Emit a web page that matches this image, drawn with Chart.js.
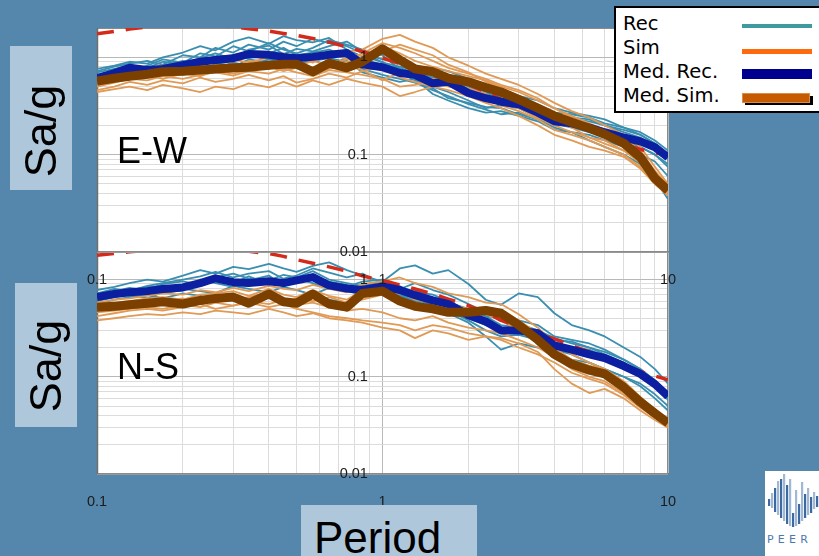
<!DOCTYPE html>
<html><head><meta charset="utf-8">
<script src="https://cdn.jsdelivr.net/npm/chart.js@4.4.1/dist/chart.umd.min.js"></script>
<style>
html,body{margin:0;padding:0;}
body{width:819px;height:556px;overflow:hidden;background:#5587ad;position:relative;font-family:"Liberation Sans",Arial,sans-serif;}
canvas{position:absolute;left:0;}
#cTop{top:0;z-index:3;}
#cBot{top:240px;z-index:2;}
.box{position:absolute;background:#afc7da;z-index:1;}
.rot{position:absolute;width:140px;height:50px;line-height:50px;font-size:45px;text-align:center;transform:rotate(-90deg);color:#000;white-space:nowrap;z-index:4;}
.tag{position:absolute;font-size:36px;line-height:36px;color:#000;z-index:4;}
#legend{position:absolute;left:614px;top:6px;width:210px;height:103px;background:#fff;border:2px solid #000;z-index:6;font-family:"DejaVu Sans",Verdana,sans-serif;font-size:19.5px;color:#000;}
#legend .t{position:absolute;left:7px;line-height:24px;white-space:nowrap;}
#legend .s{position:absolute;left:126px;width:70px;}
#period{position:absolute;left:301px;top:505px;width:176px;height:60px;background:#afc7da;z-index:4;}
#period span{position:absolute;left:13px;top:10.7px;font-size:44px;line-height:44px;color:#000;}
#logo{position:absolute;left:765px;top:471px;width:60px;height:90px;background:#fff;z-index:4;}
</style></head>
<body>
<canvas id="cTop" width="819" height="300"></canvas>
<canvas id="cBot" width="819" height="316"></canvas>

<div class="box" style="left:10px;top:46px;width:62px;height:144px;"></div>
<div class="rot" style="left:-28.6px;top:105.5px;">Sa/g</div>
<div class="box" style="left:15px;top:283px;width:62px;height:144px;"></div>
<div class="rot" style="left:-23.6px;top:341px;">Sa/g</div>
<div class="tag" style="left:117px;top:132.5px;">E-W</div>
<div class="tag" style="left:117px;top:348.5px;">N-S</div>
<div id="period"><span>Period</span></div>

<div id="legend">
  <div class="t" style="top:4px;">Rec</div>
  <div class="t" style="top:28px;">Sim</div>
  <div class="t" style="top:51.5px;">Med. Rec.</div>
  <div class="t" style="top:76px;">Med. Sim.</div>
  <div class="s" style="top:16px;height:4px;background:#3e9a9f;"></div>
  <div class="s" style="top:41px;height:4.5px;background:#ff6a0d;"></div>
  <div class="s" style="top:61px;height:10px;background:#00008f;"></div>
  <div class="s" style="width:68px;height:9px;background:#000;left:129px;top:88px;"></div>
  <div class="s" style="top:85px;width:66px;height:8px;background:#c55a00;border:1px solid #e08a4a;"></div>
</div>

<div id="logo">
<svg width="60" height="90" viewBox="0 0 60 90">
  <g fill="#3b69a0">
    <rect x="3" y="28" width="2.2" height="7"/><rect x="9" y="17" width="2.2" height="24"/>
    <rect x="15" y="8" width="2.2" height="39"/><rect x="21" y="14" width="2.2" height="39"/>
    <rect x="27" y="42" width="2.2" height="14"/><rect x="33" y="33" width="2.2" height="20"/>
    <rect x="39" y="23" width="2.2" height="24"/><rect x="45" y="26" width="2.2" height="16"/>
    <rect x="51" y="25" width="2.2" height="11"/>
  </g>
  <g fill="#9fb8d6">
    <rect x="6" y="22" width="2.2" height="15"/><rect x="12" y="10" width="2.2" height="34"/>
    <rect x="18" y="3" width="2.2" height="47"/><rect x="24" y="8" width="2.2" height="47"/>
    <rect x="30" y="19" width="2.2" height="36"/><rect x="36" y="11" width="2.2" height="39"/>
    <rect x="42" y="17" width="2.2" height="27"/><rect x="48" y="21" width="2.2" height="17"/>
  </g>
  <text x="2" y="72" font-family="DejaVu Sans, sans-serif" font-size="11" letter-spacing="4.2" fill="#4a7aab">PEER</text>
</svg>
</div>

<script>
// ---- periods (s) shared by every spectrum ----
const periods = [0.1,0.115,0.13,0.15,0.17,0.2,0.23,0.26,0.3,0.34,0.4,0.45,0.5,0.57,0.65,0.75,0.85,1,1.15,1.3,1.5,1.7,2,2.3,2.6,3,3.5,4,4.6,5.3,6,7,8,9,10];

// ---- axis ticks ----
const xGridValues = [0.1,0.2,0.3,0.4,0.5,0.6,0.7,0.8,0.9,1,2,3,4,5,6,7,8,9,10];
const xTickLabels = ['0.1','1','10'];
const yGridValues = [0.01,0.02,0.03,0.04,0.05,0.06,0.07,0.08,0.09,0.1,0.2,0.3,0.4,0.5,0.6,0.7,0.8,0.9,1,2];
const yTickLabels = ['0.01','0.1','1'];

// ---- E-W panel ----
const ewRec = [
  [0.72,0.80,0.86,0.92,0.84,1.05,1.00,1.25,1.12,1.35,1.20,1.45,1.30,1.55,1.40,1.30,1.10,0.95,0.90,0.80,0.78,0.72,0.60,0.52,0.48,0.40,0.36,0.30,0.27,0.25,0.23,0.19,0.16,0.13,0.10],
  [0.66,0.72,0.70,0.82,0.95,0.88,1.10,1.02,1.30,1.15,1.40,1.20,1.10,1.25,1.50,1.35,1.20,1.05,0.75,0.70,0.62,0.60,0.50,0.42,0.40,0.36,0.30,0.26,0.24,0.23,0.20,0.17,0.15,0.12,0.090],
  [0.55,0.62,0.75,0.68,0.70,0.78,0.72,0.85,0.80,0.95,0.88,0.82,0.90,0.78,0.85,0.92,0.70,0.62,0.56,0.60,0.42,0.36,0.30,0.27,0.28,0.25,0.22,0.18,0.17,0.14,0.12,0.10,0.080,0.055,0.035],
  [0.60,0.66,0.72,0.80,0.70,0.86,0.95,0.85,0.92,1.05,0.96,0.90,1.05,0.95,0.80,1.00,0.82,0.76,0.72,0.62,0.50,0.44,0.36,0.30,0.32,0.30,0.24,0.20,0.20,0.18,0.15,0.13,0.12,0.10,0.075],
  [0.70,0.76,0.82,0.78,0.90,0.84,0.98,1.10,0.96,1.20,1.32,1.08,1.22,1.15,1.30,1.45,1.15,0.88,0.80,0.74,0.66,0.62,0.52,0.44,0.38,0.35,0.30,0.27,0.26,0.24,0.21,0.19,0.17,0.14,0.11],
  [0.50,0.58,0.66,0.62,0.72,0.68,0.80,0.76,0.88,0.82,0.95,0.90,0.86,0.92,0.98,0.90,0.76,0.66,0.60,0.55,0.46,0.40,0.33,0.29,0.26,0.27,0.23,0.19,0.17,0.16,0.14,0.12,0.10,0.085,0.060],
  [0.64,0.70,0.68,0.76,0.82,0.92,0.86,0.98,1.05,0.98,1.10,1.25,1.05,1.12,1.20,1.02,0.95,0.84,0.78,0.68,0.62,0.55,0.46,0.40,0.36,0.32,0.28,0.24,0.23,0.22,0.20,0.18,0.16,0.13,0.10],
  [0.76,0.82,0.90,0.86,1.00,1.12,1.30,1.18,1.45,1.60,1.38,1.65,1.50,1.42,1.58,1.20,1.02,0.90,0.70,0.58,0.48,0.38,0.34,0.31,0.30,0.26,0.23,0.21,0.19,0.17,0.16,0.14,0.12,0.10,0.080]
];
const ewSim = [
  [0.50,0.55,0.60,0.58,0.64,0.60,0.66,0.70,0.65,0.72,0.68,0.76,0.70,0.64,0.74,0.70,0.66,0.60,0.50,0.52,0.56,0.50,0.46,0.40,0.38,0.32,0.26,0.22,0.19,0.15,0.14,0.11,0.085,0.058,0.045],
  [0.62,0.66,0.72,0.78,0.82,0.76,0.86,0.90,0.95,0.88,1.00,1.10,0.98,0.90,1.05,1.15,1.20,1.55,1.70,1.45,1.25,1.00,0.82,0.68,0.60,0.52,0.42,0.34,0.28,0.24,0.20,0.16,0.12,0.075,0.050],
  [0.46,0.50,0.56,0.52,0.58,0.54,0.62,0.56,0.60,0.66,0.58,0.64,0.55,0.60,0.68,0.62,0.72,0.80,0.62,0.56,0.50,0.52,0.44,0.38,0.32,0.28,0.23,0.18,0.16,0.14,0.12,0.10,0.075,0.050,0.040],
  [0.56,0.62,0.68,0.72,0.66,0.76,0.82,0.78,0.86,0.80,0.90,0.82,0.94,0.76,0.84,0.96,1.05,1.30,1.10,0.92,0.80,0.72,0.64,0.58,0.50,0.44,0.36,0.30,0.25,0.21,0.18,0.15,0.11,0.068,0.048],
  [0.60,0.64,0.66,0.70,0.74,0.80,0.72,0.84,0.78,0.92,0.86,0.96,1.05,0.88,1.12,0.95,1.10,1.40,1.25,1.10,0.92,0.78,0.68,0.60,0.52,0.46,0.38,0.30,0.24,0.20,0.17,0.14,0.10,0.062,0.044],
  [0.52,0.58,0.62,0.66,0.60,0.68,0.64,0.72,0.68,0.74,0.80,0.72,0.78,0.68,0.76,0.82,0.74,0.58,0.70,0.62,0.60,0.56,0.48,0.42,0.36,0.30,0.24,0.20,0.17,0.15,0.13,0.11,0.082,0.055,0.042],
  [0.58,0.60,0.64,0.62,0.70,0.66,0.74,0.80,0.74,0.82,0.76,0.86,0.80,0.92,0.82,0.90,0.96,1.15,1.35,1.20,1.05,0.84,0.70,0.56,0.48,0.40,0.32,0.27,0.22,0.18,0.16,0.13,0.095,0.060,0.045],
  [0.44,0.47,0.50,0.46,0.52,0.48,0.44,0.50,0.47,0.54,0.49,0.56,0.50,0.58,0.52,0.60,0.55,0.50,0.40,0.44,0.50,0.46,0.40,0.34,0.30,0.25,0.20,0.16,0.14,0.12,0.11,0.095,0.072,0.050,0.038]
];
const ewMedRec = [0.61,0.69,0.78,0.74,0.76,0.83,0.90,0.94,0.98,1.08,1.06,1.01,0.98,1.01,1.06,1.11,0.85,0.79,0.69,0.66,0.54,0.56,0.43,0.38,0.35,0.33,0.27,0.22,0.21,0.19,0.17,0.15,0.137,0.119,0.094];
const ewMedSim = [0.57,0.61,0.64,0.67,0.71,0.72,0.74,0.76,0.78,0.79,0.83,0.85,0.85,0.71,0.87,0.78,0.90,1.22,0.94,0.76,0.71,0.61,0.56,0.49,0.44,0.37,0.30,0.25,0.215,0.187,0.162,0.131,0.094,0.057,0.043];
const ewTarget = [1.74,1.84,1.95,2.05,2.15,2.2,2.2,2.15,2.05,1.97,1.86,1.76,1.68,1.56,1.43,1.28,1.15,0.98,0.86,0.78,0.69,0.62,0.53,0.44,0.37,0.32,0.28,0.245,0.21,0.18,0.16,0.128,0.113,0.105,0.098];

// ---- N-S panel ----
const nsRec = [
  [0.78,0.84,0.92,1.00,0.95,1.10,1.25,1.15,1.35,1.28,1.45,1.30,1.20,1.38,1.50,1.25,1.10,0.95,1.30,1.40,1.15,1.25,0.90,0.62,0.55,0.72,0.66,0.45,0.34,0.30,0.26,0.20,0.16,0.12,0.085],
  [0.70,0.76,0.82,0.78,0.90,0.96,0.88,1.05,1.15,1.02,0.98,1.12,1.05,1.22,1.00,0.92,0.86,0.95,0.85,0.72,0.65,0.58,0.50,0.42,0.40,0.38,0.34,0.26,0.24,0.22,0.19,0.15,0.12,0.09,0.065],
  [0.60,0.66,0.70,0.64,0.74,0.80,0.76,0.72,0.86,0.80,0.74,0.84,0.78,0.70,0.82,0.76,0.70,0.80,0.70,0.62,0.55,0.48,0.38,0.30,0.26,0.27,0.24,0.19,0.17,0.14,0.12,0.10,0.08,0.060,0.045],
  [0.64,0.70,0.68,0.80,0.72,0.78,1.00,0.92,0.84,0.98,1.10,0.86,1.02,0.92,0.80,0.84,0.95,1.00,0.82,0.75,0.70,0.60,0.48,0.42,0.34,0.32,0.30,0.25,0.22,0.20,0.17,0.14,0.11,0.085,0.060],
  [0.72,0.80,0.76,0.86,0.92,1.00,1.08,1.20,1.05,1.15,1.22,1.02,1.10,1.30,1.18,1.05,1.15,0.90,0.80,0.92,0.78,0.70,0.56,0.46,0.38,0.35,0.30,0.24,0.23,0.20,0.18,0.15,0.12,0.092,0.068],
  [0.56,0.62,0.66,0.70,0.64,0.72,0.68,0.60,0.66,0.62,0.70,0.64,0.58,0.66,0.62,0.58,0.66,0.76,0.68,0.60,0.52,0.45,0.36,0.26,0.19,0.22,0.20,0.17,0.15,0.14,0.12,0.10,0.085,0.066,0.050],
  [0.68,0.72,0.78,0.84,0.86,0.82,0.95,1.02,0.92,1.08,0.90,1.00,0.94,1.04,0.95,0.88,0.82,0.90,0.72,0.66,0.60,0.52,0.40,0.34,0.30,0.28,0.26,0.22,0.20,0.19,0.16,0.13,0.10,0.078,0.058]
];
const nsSim = [
  [0.46,0.48,0.50,0.52,0.50,0.55,0.52,0.58,0.54,0.60,0.56,0.62,0.55,0.58,0.52,0.48,0.50,0.46,0.40,0.38,0.42,0.36,0.32,0.30,0.28,0.24,0.20,0.16,0.12,0.10,0.090,0.068,0.050,0.040,0.032],
  [0.58,0.62,0.64,0.68,0.72,0.70,0.78,0.74,0.82,0.76,0.86,0.80,0.78,0.88,0.80,0.74,0.90,0.96,1.05,0.92,0.84,0.72,0.66,0.58,0.56,0.44,0.32,0.22,0.17,0.14,0.12,0.090,0.062,0.046,0.036],
  [0.38,0.40,0.42,0.44,0.43,0.46,0.44,0.48,0.46,0.44,0.50,0.46,0.42,0.45,0.40,0.38,0.36,0.32,0.30,0.25,0.30,0.28,0.24,0.26,0.25,0.22,0.18,0.12,0.085,0.068,0.075,0.060,0.045,0.036,0.030],
  [0.52,0.54,0.58,0.56,0.62,0.58,0.66,0.70,0.62,0.66,0.74,0.64,0.60,0.70,0.58,0.56,0.66,0.72,0.64,0.56,0.52,0.48,0.44,0.45,0.40,0.32,0.25,0.18,0.14,0.12,0.11,0.080,0.058,0.044,0.034],
  [0.48,0.52,0.56,0.54,0.60,0.64,0.58,0.62,0.68,0.62,0.66,0.58,0.64,0.60,0.66,0.58,0.62,0.70,0.72,0.68,0.60,0.56,0.50,0.44,0.38,0.30,0.23,0.17,0.13,0.11,0.10,0.075,0.054,0.041,0.033],
  [0.42,0.45,0.48,0.50,0.48,0.52,0.56,0.50,0.54,0.58,0.52,0.56,0.50,0.46,0.42,0.40,0.38,0.36,0.34,0.30,0.34,0.32,0.28,0.26,0.24,0.20,0.17,0.14,0.11,0.095,0.085,0.065,0.048,0.038,0.031],
  [0.56,0.58,0.60,0.64,0.66,0.62,0.70,0.72,0.76,0.68,0.80,0.70,0.66,0.78,0.68,0.62,0.78,0.86,0.74,0.62,0.58,0.54,0.50,0.52,0.48,0.38,0.28,0.20,0.15,0.13,0.12,0.085,0.060,0.045,0.035]
];
const nsMedRec = [0.66,0.71,0.74,0.76,0.80,0.83,0.92,1.03,0.94,0.92,0.96,0.92,0.98,1.06,0.87,0.81,0.78,0.85,0.78,0.69,0.61,0.56,0.43,0.37,0.30,0.30,0.28,0.21,0.19,0.17,0.156,0.129,0.107,0.084,0.063];
const nsMedSim = [0.52,0.53,0.55,0.57,0.59,0.56,0.61,0.64,0.66,0.57,0.71,0.59,0.57,0.71,0.56,0.52,0.72,0.76,0.60,0.53,0.50,0.46,0.46,0.48,0.45,0.34,0.24,0.17,0.135,0.117,0.107,0.078,0.055,0.042,0.0335];
const nsTarget = [1.78,1.86,1.93,2.0,2.1,2.15,2.15,2.1,2.02,1.95,1.85,1.73,1.60,1.47,1.35,1.22,1.09,0.98,0.88,0.80,0.71,0.63,0.54,0.46,0.38,0.33,0.28,0.245,0.21,0.18,0.158,0.128,0.113,0.102,0.093];

// ---- styles ----
const C_REC = '#3a8fb0', C_SIM = '#e09a55', C_MREC = '#0b1fa0', C_MSIM = '#7b3f00', C_TGT = '#d42a1a';
const FONT = {family: '"Liberation Sans", Arial, sans-serif', size: 14.5};

function pts(vals){ return vals.map((v,i)=>({x: periods[i], y: v})); }
function ds(vals, color, w, order, dash){
  return {data: pts(vals), borderColor: color, borderWidth: w, pointRadius: 0, fill: false,
          tension: 0, clip: 0, order: order, borderDash: dash || [], borderJoinStyle: 'round', borderCapStyle: 'butt'};
}
function isDecade(v){ const l = Math.log10(v); return Math.abs(l - Math.round(l)) < 1e-6; }
function gridColor(ctx){ const v = ctx.tick && ctx.tick.value; if (!v) return '#dcdcdc'; return isDecade(v) ? '#b8b8b8' : '#dcdcdc'; }
function labelFrom(list){ return v => { const hit = list.find(s => Math.abs(parseFloat(s) - v) < 1e-9 * Math.max(1, v)); return hit === undefined ? '' : hit; }; }

const plotFrame = {
  id: 'plotFrame',
  beforeDraw(chart){ const a = chart.chartArea, c = chart.ctx; c.save(); c.fillStyle = '#ffffff'; c.fillRect(a.left, a.top, a.right - a.left, a.bottom - a.top); c.restore(); },
  beforeDatasetsDraw(chart){ const a = chart.chartArea, c = chart.ctx; c.save(); c.strokeStyle = '#8a8a8a'; c.lineWidth = 1;
    c.strokeRect(a.left + 0.5, a.top + 0.5, a.right - a.left - 1, a.bottom - a.top - 1);
    c.strokeStyle = '#6f6f6f'; c.lineWidth = 1.5; c.beginPath(); c.moveTo(a.left + 0.5, a.top); c.lineTo(a.left + 0.5, a.bottom); c.stroke(); c.restore(); }
};

function build(id, rec, sim, medRec, medSim, target, padTop, xAxisH, yMax){
  const datasets = [];
  rec.forEach(r => datasets.push(ds(r, C_REC, 1.8, 5)));
  sim.forEach(s => datasets.push(ds(s, C_SIM, 1.8, 4)));
  datasets.push(ds(target, C_TGT, 3.5, 3, [17, 12]));
  datasets.push(ds(medRec, C_MREC, 8, 2));
  datasets.push(ds(medSim, C_MSIM, 9, 1));
  return new Chart(document.getElementById(id), {
    type: 'line',
    data: {datasets},
    plugins: [plotFrame],
    options: {
      responsive: false, animation: false, events: [], parsing: true,
      layout: {padding: {left: 97, right: 151, top: padTop, bottom: 0}},
      plugins: {legend: {display: false}, tooltip: {enabled: false}},
      scales: {
        x: {
          type: 'logarithmic', min: 0.1, max: 10,
          afterBuildTicks: s => { s.ticks = xGridValues.map(v => ({value: v})); },
          afterFit: s => { s.height = xAxisH; },
          grid: {color: gridColor, lineWidth: 1, drawTicks: false},
          border: {display: true, color: '#7a7a7a', width: 1.5},
          ticks: {autoSkip: false, maxRotation: 0, minRotation: 0, padding: 19, color: '#1b1b1b', font: FONT, callback: labelFrom(xTickLabels)}
        },
        y: {
          type: 'logarithmic', min: 0.01, max: yMax, position: {x: 0.889},
          afterBuildTicks: s => { s.ticks = yGridValues.filter(v => v <= yMax + 1e-9).map(v => ({value: v})); },
          afterFit: s => { s.width = 0; },
          grid: {color: gridColor, lineWidth: 1, drawTicks: false},
          border: {display: false},
          ticks: {autoSkip: false, padding: 0, z: 1, color: '#1b1b1b', font: FONT, callback: labelFrom(yTickLabels)}
        }
      }
    }
  });
}

build('cTop', ewRec, ewSim, ewMedRec, ewMedSim, ewTarget, 28, 48, 2.0);
build('cBot', nsRec, nsSim, nsMedRec, nsMedSim, nsTarget, 12, 82, 1.92);
</script>
</body></html>
